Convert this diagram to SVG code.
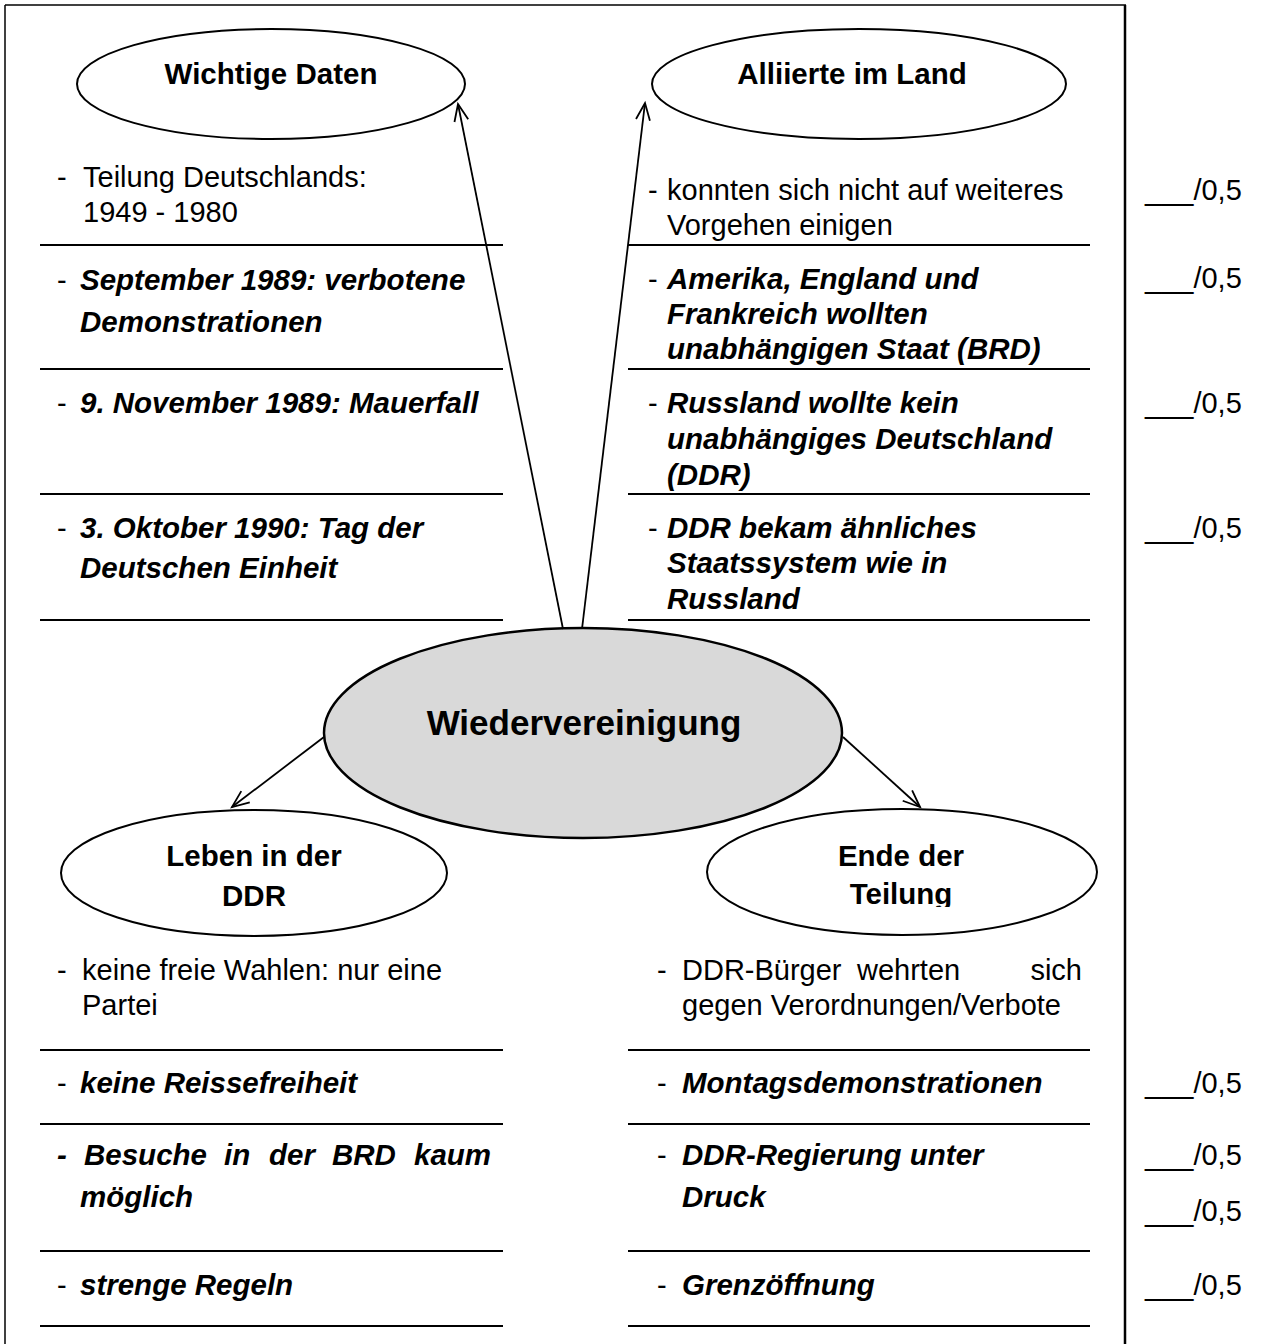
<svg xmlns="http://www.w3.org/2000/svg" width="1266" height="1344" viewBox="0 0 1266 1344">
<defs>
<style>
text { font-family: "Liberation Sans", Arial, sans-serif; font-size: 29px; fill: #000; }
.bi { font-weight: bold; font-style: italic; font-size: 29.5px; }
.hd { font-weight: bold; font-size: 29.5px; text-anchor: middle; }
.big { font-weight: bold; font-size: 35px; text-anchor: middle; }
.rule { stroke: #000; stroke-width: 2; }
.frame { stroke: #000; stroke-width: 1.5; fill: none; }
.node { fill: #fff; stroke: #000; stroke-width: 2; }
.center { fill: #d9d9d9; stroke: #000; stroke-width: 2.5; }
.conn { stroke: #000; stroke-width: 1.8; fill: none; marker-end: url(#arr); }
</style>
<marker id="arr" markerUnits="userSpaceOnUse" markerWidth="40" markerHeight="40" viewBox="-20 -20 40 40" refX="0" refY="0" orient="auto">
<path d="M-17,-7 L0,0 L-17,7" fill="none" stroke="#000" stroke-width="1.8"/>
</marker>
<clipPath id="clipTeil"><rect x="700" y="800" width="400" height="107"/></clipPath>
</defs>
<rect width="1266" height="1344" fill="#fff"/>

<g id="frame">
<line class="frame" x1="5" y1="5" x2="1126" y2="5"/>
<line class="frame" x1="5" y1="5" x2="5" y2="1344"/>
<line x1="1125" y1="5" x2="1125" y2="1344" stroke="#000" stroke-width="2.5"/>
</g>

<g id="rules">
<line class="rule" x1="40" y1="245" x2="503" y2="245"/>
<line class="rule" x1="628" y1="245" x2="1090" y2="245"/>
<line class="rule" x1="40" y1="369" x2="503" y2="369"/>
<line class="rule" x1="628" y1="369" x2="1090" y2="369"/>
<line class="rule" x1="40" y1="494" x2="503" y2="494"/>
<line class="rule" x1="628" y1="494" x2="1090" y2="494"/>
<line class="rule" x1="40" y1="620" x2="503" y2="620"/>
<line class="rule" x1="628" y1="620" x2="1090" y2="620"/>
<line class="rule" x1="40" y1="1050" x2="503" y2="1050"/>
<line class="rule" x1="628" y1="1050" x2="1090" y2="1050"/>
<line class="rule" x1="40" y1="1124" x2="503" y2="1124"/>
<line class="rule" x1="628" y1="1124" x2="1090" y2="1124"/>
<line class="rule" x1="40" y1="1251" x2="503" y2="1251"/>
<line class="rule" x1="628" y1="1251" x2="1090" y2="1251"/>
<line class="rule" x1="40" y1="1326" x2="503" y2="1326"/>
<line class="rule" x1="628" y1="1326" x2="1090" y2="1326"/>
</g>

<g id="node-wichtige-daten">
<ellipse class="node" cx="271" cy="84" rx="194" ry="55"/>
<text class="hd" x="271" y="84">Wichtige Daten</text>
</g>
<g id="node-alliierte">
<ellipse class="node" cx="859" cy="84" rx="207" ry="55"/>
<text class="hd" x="852" y="84">Alliierte im Land</text>
</g>
<g id="node-wiedervereinigung">
<ellipse class="center" cx="583" cy="733" rx="259" ry="105"/>
<text class="big" x="584" y="735">Wiedervereinigung</text>
</g>
<g id="node-leben">
<ellipse class="node" cx="254" cy="873" rx="193" ry="63"/>
<text class="hd" x="254" y="866">Leben in der</text>
<text class="hd" x="254" y="906">DDR</text>
</g>
<g id="node-ende">
<ellipse class="node" cx="902" cy="872" rx="195" ry="63"/>
<text class="hd" x="901" y="866">Ende der</text>
<text class="hd" x="901" y="904" clip-path="url(#clipTeil)">Teilung</text>
</g>

<g id="text-wichtige-daten">
<text x="57" y="187">-</text><text x="83" y="187">Teilung Deutschlands:</text>
<text x="83" y="222">1949 - 1980</text>
<text x="57" y="290">-</text><text class="bi" x="80" y="290">September 1989: verbotene</text>
<text class="bi" x="80" y="332">Demonstrationen</text>
<text x="57" y="413">-</text><text class="bi" x="80" y="413">9. November 1989: Mauerfall</text>
<text x="57" y="538">-</text><text class="bi" x="80" y="538">3. Oktober 1990: Tag der</text>
<text class="bi" x="80" y="578">Deutschen Einheit</text>
</g>

<g id="text-alliierte">
<text x="648" y="200">-</text><text x="667" y="200">konnten sich nicht auf weiteres</text>
<text x="667" y="235">Vorgehen einigen</text>
<text x="648" y="289">-</text><text class="bi" x="667" y="289">Amerika, England und</text>
<text class="bi" x="667" y="324">Frankreich wollten</text>
<text class="bi" x="667" y="359">unabhängigen Staat (BRD)</text>
<text x="648" y="413">-</text><text class="bi" x="667" y="413">Russland wollte kein</text>
<text class="bi" x="667" y="449">unabhängiges Deutschland</text>
<text class="bi" x="667" y="485">(DDR)</text>
<text x="648" y="538">-</text><text class="bi" x="667" y="538">DDR bekam ähnliches</text>
<text class="bi" x="667" y="573">Staatssystem wie in</text>
<text class="bi" x="667" y="609">Russland</text>
</g>

<g id="text-leben">
<text x="57" y="980">-</text><text x="82" y="980">keine freie Wahlen: nur eine</text>
<text x="82" y="1015">Partei</text>
<text x="57" y="1093">-</text><text class="bi" x="80" y="1093">keine Reissefreiheit</text>
<text class="bi" x="57" y="1165">-</text>
<text class="bi" y="1165"><tspan x="84">Besuche</tspan><tspan x="224">in</tspan><tspan x="269">der</tspan><tspan x="332">BRD</tspan><tspan x="414">kaum</tspan></text>
<text class="bi" x="80" y="1207">möglich</text>
<text x="57" y="1295">-</text><text class="bi" x="80" y="1295">strenge Regeln</text>
</g>

<g id="text-ende">
<text x="657" y="980">-</text>
<text y="980"><tspan x="682">DDR-Bürger</tspan><tspan x="857">wehrten</tspan></text>
<text x="1082" y="980" text-anchor="end">sich</text>
<text x="682" y="1015">gegen Verordnungen/Verbote</text>
<text x="657" y="1093">-</text><text class="bi" x="682" y="1093">Montagsdemonstrationen</text>
<text x="657" y="1165">-</text><text class="bi" x="682" y="1165">DDR-Regierung unter</text>
<text class="bi" x="682" y="1207">Druck</text>
<text x="657" y="1295">-</text><text class="bi" x="682" y="1295">Grenzöffnung</text>
</g>

<g id="scores">
<text x="1145" y="200">___/0,5</text>
<text x="1145" y="288">___/0,5</text>
<text x="1145" y="413">___/0,5</text>
<text x="1145" y="538">___/0,5</text>
<text x="1145" y="1093">___/0,5</text>
<text x="1145" y="1165">___/0,5</text>
<text x="1145" y="1221">___/0,5</text>
<text x="1145" y="1295">___/0,5</text>
</g>

<g id="connectors">
<line class="conn" x1="563" y1="629" x2="458" y2="104"/>
<line class="conn" x1="582" y1="629" x2="645" y2="103"/>
<line class="conn" x1="324" y1="737" x2="232" y2="807"/>
<line class="conn" x1="843" y1="737" x2="920" y2="807"/>
</g>
</svg>
